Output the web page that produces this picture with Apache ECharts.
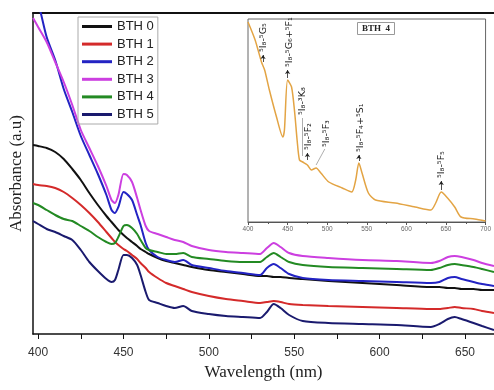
<!DOCTYPE html>
<html>
<head>
<meta charset="utf-8">
<script src="https://cdn.jsdelivr.net/npm/echarts@6/dist/echarts.min.js"></script>
<style>
  html, body { margin: 0; padding: 0; background: #fff; }
  #chart { width: 494px; height: 390px; }
</style>
</head>
<body>
<div id="chart"></div>
<script>
// main plot, wavelength in nm, absorbance in arbitrary units
const wavelengths = [397, 400, 405, 410, 415, 420, 425, 430, 435, 440, 443, 445, 447, 450, 452, 455, 458, 460, 463, 465,
  470, 475, 480, 485, 490, 500, 510, 520, 530, 534, 538, 542, 547, 555, 570, 590, 610, 630, 635, 640, 644, 648, 655, 660, 667];

const bth0 = [1.89, 1.88, 1.86, 1.82, 1.75, 1.65, 1.54, 1.41, 1.29, 1.18, 1.12, 1.08, 1.04, 0.99, 0.96, 0.92, 0.88, 0.85, 0.82, 0.80,
  0.76, 0.73, 0.71, 0.69, 0.67, 0.64, 0.62, 0.60, 0.58, 0.58, 0.57, 0.57, 0.56, 0.55, 0.53, 0.51, 0.49, 0.47, 0.47, 0.46, 0.46, 0.45, 0.45, 0.44, 0.44];
const bth1 = [1.50, 1.49, 1.48, 1.46, 1.42, 1.36, 1.29, 1.21, 1.12, 1.02, 0.96, 0.92, 0.89, 0.85, 0.83, 0.79, 0.75, 0.71, 0.66, 0.62,
  0.56, 0.51, 0.48, 0.45, 0.42, 0.38, 0.35, 0.33, 0.31, 0.32, 0.33, 0.32, 0.30, 0.29, 0.28, 0.27, 0.26, 0.25, 0.25, 0.26, 0.27, 0.26, 0.25, 0.23, 0.21];
const bth2 = [3.39, 3.31, 2.97, 2.74, 2.45, 2.22, 1.98, 1.79, 1.60, 1.39, 1.24, 1.21, 1.27, 1.42, 1.40, 1.34, 1.19, 1.09, 0.91, 0.84,
  0.77, 0.74, 0.72, 0.74, 0.69, 0.66, 0.63, 0.61, 0.59, 0.66, 0.70, 0.66, 0.60, 0.56, 0.54, 0.53, 0.52, 0.51, 0.52, 0.56, 0.57, 0.55, 0.52, 0.50, 0.48];
const bth3 = [3.16, 3.07, 2.92, 2.72, 2.52, 2.29, 2.04, 1.86, 1.68, 1.48, 1.34, 1.31, 1.39, 1.60, 1.59, 1.52, 1.36, 1.24, 1.08, 1.03,
  1.00, 0.97, 0.94, 0.92, 0.88, 0.84, 0.82, 0.81, 0.80, 0.86, 0.91, 0.87, 0.81, 0.78, 0.76, 0.74, 0.73, 0.71, 0.73, 0.77, 0.78, 0.77, 0.74, 0.71, 0.68];
const bth4 = [1.31, 1.29, 1.24, 1.19, 1.15, 1.13, 1.08, 1.03, 0.97, 0.92, 0.90, 0.91, 0.97, 1.08, 1.09, 1.06, 1.00, 0.94, 0.86, 0.84,
  0.82, 0.80, 0.80, 0.81, 0.77, 0.75, 0.73, 0.72, 0.72, 0.77, 0.81, 0.77, 0.72, 0.69, 0.67, 0.66, 0.65, 0.64, 0.66, 0.69, 0.70, 0.69, 0.67, 0.65, 0.62];
const bth5 = [1.13, 1.10, 1.05, 1.02, 0.98, 0.94, 0.84, 0.72, 0.63, 0.55, 0.52, 0.54, 0.64, 0.79, 0.79, 0.76, 0.69, 0.59, 0.42, 0.34,
  0.31, 0.28, 0.26, 0.28, 0.23, 0.20, 0.18, 0.17, 0.16, 0.22, 0.30, 0.26, 0.19, 0.13, 0.11, 0.10, 0.09, 0.07, 0.10, 0.15, 0.17, 0.15, 0.11, 0.08, 0.04];

const names = ['BTH 0', 'BTH 1', 'BTH 2', 'BTH 3', 'BTH 4', 'BTH 5'];
const colors = ['#111111', '#d42a2a', '#2323c3', '#cc3fe0', '#238a23', '#1a1a6e'];
const allSeries = [bth0, bth1, bth2, bth3, bth4, bth5];

const xLabels = [400, 450, 500, 550, 600, 650];
const xTicks = [400, 425, 450, 475, 500, 525, 550, 575, 600, 625, 650];

// inset: BTH 4 spectrum
const insetNm = [400, 409, 417, 421, 427, 436, 444, 446, 450, 455, 459, 462, 465, 469, 475, 480, 486, 492, 502, 519,
  531, 536, 540, 544, 552, 561, 586, 611, 631, 637, 644, 652, 661, 669, 686, 700];
const insetAbs = [2.00, 1.82, 1.60, 1.52, 1.32, 1.05, 0.85, 0.92, 1.42, 1.35, 1.09, 0.82, 0.62, 0.60, 0.57, 0.52, 0.54, 0.49, 0.40, 0.34,
  0.30, 0.42, 0.59, 0.49, 0.29, 0.22, 0.19, 0.15, 0.12, 0.19, 0.30, 0.24, 0.15, 0.05, 0.03, 0.01];

// transition labels
const transitions = ['⁵I₈-⁵G₅', '⁵I₈-⁵G₆+⁵F₁', '⁵I₈-³K₈', '⁵I₈-⁵F₂', '⁵I₈-⁵F₃', '⁵I₈-⁵F₄+⁵S₁', '⁵I₈-⁵F₅'];
const labelAt = [[420, 1.70], [452, 1.55], [469, 1.07], [477, 0.72], [499, 0.75], [542, 0.70], [644, 0.44]];
const pointerFrom = [[419, 1.60], [450, 1.44], [469, 0.66], [475, 0.62], [486, 0.57], [540, 0.61], [644, 0.32]];
const pointerTo = [[419, 1.67], [450, 1.52], [469, 1.04], [475, 0.69], [497, 0.73], [540, 0.67], [644, 0.41]];
const pointerArrow = [true, true, false, true, false, true, true];

const chart = echarts.init(document.getElementById('chart'));

const mainSeries = allSeries.map((vals, i) => ({
  name: names[i],
  type: 'line',
  xAxisIndex: 0,
  yAxisIndex: 0,
  data: wavelengths.map((w, j) => [w, vals[j]]),
  symbol: 'none',
  smooth: 0.25,
  lineStyle: { width: 2, color: colors[i] },
  itemStyle: { color: colors[i] }
}));

const insetSeries = {
  name: 'inset',
  type: 'line',
  xAxisIndex: 2,
  yAxisIndex: 1,
  data: insetNm.map((w, j) => [w, insetAbs[j]]),
  symbol: 'none',
  smooth: 0.25,
  lineStyle: { width: 1.5, color: '#e3a444' },
  markPoint: {
    silent: true,
    symbol: 'circle',
    symbolSize: 1,
    itemStyle: { color: 'rgba(0,0,0,0)' },
    label: {
      show: true,
      rotate: 90,
      align: 'left',
      verticalAlign: 'middle',
      fontSize: 9.5,
      fontFamily: 'DejaVu Sans',
      color: '#222'
    },
    data: transitions.map((t, i) => ({ coord: labelAt[i], label: { formatter: t } }))
  },
  markLine: {
    silent: true,
    symbolSize: 4,
    label: { show: false },
    data: transitions.map((t, i) => [
      { coord: pointerFrom[i], symbol: 'none' },
      {
        coord: pointerTo[i],
        symbol: pointerArrow[i] ? 'arrow' : 'none',
        lineStyle: { color: pointerArrow[i] ? '#222' : '#999', width: 0.8, type: 'solid' }
      }
    ])
  }
};

chart.setOption({
  animation: false,
  backgroundColor: '#fff',
  title: {
    text: 'BTH  4',
    left: 357,
    top: 22,
    padding: [2, 5],
    borderColor: '#999',
    borderWidth: 1,
    textStyle: { fontFamily: 'Liberation Serif', fontWeight: 'bold', fontSize: 9, color: '#222' }
  },
  legend: {
    data: names,
    orient: 'vertical',
    left: 78,
    top: 17,
    padding: [3, 4, 3, 4],
    icon: 'rect',
    itemWidth: 30,
    itemHeight: 3,
    itemGap: 4.6,
    borderColor: '#aaa',
    borderWidth: 1,
    textStyle: { fontFamily: 'Liberation Sans', fontSize: 13, lineHeight: 13, color: '#222' }
  },
  grid: [
    { left: 33, right: 0, top: 13, bottom: 56 },
    { left: 248, right: 6, top: 19, bottom: 168, show: true, borderColor: '#666', borderWidth: 1, backgroundColor: '#fff' }
  ],
  xAxis: [
    {
      gridIndex: 0,
      type: 'value',
      min: 397,
      max: 667,
      name: 'Wavelength (nm)',
      nameLocation: 'middle',
      nameGap: 30,
      nameMoveOverlap: false,
      nameTextStyle: { fontFamily: 'Liberation Serif', fontSize: 17, color: '#222' },
      axisLine: { lineStyle: { color: '#111', width: 1.5 } },
      axisTick: { customValues: xTicks, length: 5, lineStyle: { color: '#111' } },
      axisLabel: { customValues: xLabels, margin: 13, fontFamily: 'Liberation Sans', fontSize: 12, color: '#333' },
      splitLine: { show: false }
    },
    {
      gridIndex: 0,
      type: 'value',
      position: 'top',
      min: 397,
      max: 667,
      axisLine: { lineStyle: { color: '#111', width: 2 } },
      axisTick: { show: false },
      axisLabel: { show: false },
      splitLine: { show: false }
    },
    {
      gridIndex: 1,
      type: 'value',
      min: 400,
      max: 700,
      interval: 50,
      axisLine: { lineStyle: { color: '#555', width: 1 } },
      axisTick: { length: 3, lineStyle: { color: '#555' } },
      minorTick: { show: true, splitNumber: 2, length: 2, lineStyle: { color: '#555' } },
      axisLabel: { margin: 4, fontFamily: 'Liberation Sans', fontSize: 6.5, color: '#666' },
      splitLine: { show: false }
    }
  ],
  yAxis: [
    {
      gridIndex: 0,
      type: 'value',
      min: 0,
      max: 3.21,
      name: 'Absorbance (a.u)',
      nameLocation: 'middle',
      nameGap: 8,
      nameTextStyle: { fontFamily: 'Liberation Serif', fontSize: 17, color: '#222' },
      axisLine: { show: true, lineStyle: { color: '#111', width: 1.5 } },
      axisTick: { show: false },
      axisLabel: { show: false },
      splitLine: { show: false }
    },
    {
      gridIndex: 1,
      type: 'value',
      min: 0,
      max: 2.03,
      axisLine: { show: false },
      axisTick: { show: false },
      axisLabel: { show: false },
      splitLine: { show: false }
    }
  ],
  series: mainSeries.concat([insetSeries])
});
</script>
</body>
</html>
